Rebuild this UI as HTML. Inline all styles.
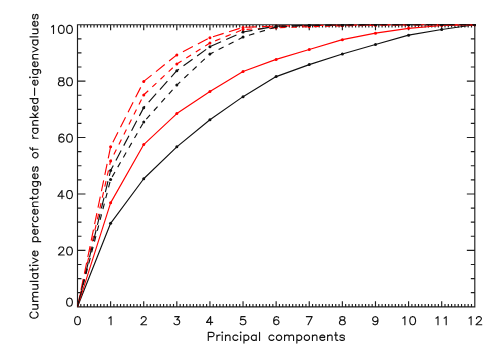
<!DOCTYPE html>
<html><head><meta charset="utf-8"><title>plot</title>
<style>html,body{margin:0;padding:0;background:#fff;font-family:"Liberation Sans",sans-serif;}svg{display:block}</style></head><body>
<svg width="498" height="356" viewBox="0 0 498 356">
<rect width="498" height="356" fill="#fff"/>
<path d="M77.50 24.70H474.80V306.80H77.50ZM77.50 306.80v-5.64M77.50 24.70v5.64M80.81 306.80v-2.82M80.81 24.70v2.82M84.12 306.80v-2.82M84.12 24.70v2.82M87.43 306.80v-2.82M87.43 24.70v2.82M90.74 306.80v-2.82M90.74 24.70v2.82M94.05 306.80v-2.82M94.05 24.70v2.82M97.36 306.80v-2.82M97.36 24.70v2.82M100.68 306.80v-2.82M100.68 24.70v2.82M103.99 306.80v-2.82M103.99 24.70v2.82M107.30 306.80v-2.82M107.30 24.70v2.82M110.61 306.80v-5.64M110.61 24.70v5.64M113.92 306.80v-2.82M113.92 24.70v2.82M117.23 306.80v-2.82M117.23 24.70v2.82M120.54 306.80v-2.82M120.54 24.70v2.82M123.85 306.80v-2.82M123.85 24.70v2.82M127.16 306.80v-2.82M127.16 24.70v2.82M130.47 306.80v-2.82M130.47 24.70v2.82M133.78 306.80v-2.82M133.78 24.70v2.82M137.09 306.80v-2.82M137.09 24.70v2.82M140.41 306.80v-2.82M140.41 24.70v2.82M143.72 306.80v-5.64M143.72 24.70v5.64M147.03 306.80v-2.82M147.03 24.70v2.82M150.34 306.80v-2.82M150.34 24.70v2.82M153.65 306.80v-2.82M153.65 24.70v2.82M156.96 306.80v-2.82M156.96 24.70v2.82M160.27 306.80v-2.82M160.27 24.70v2.82M163.58 306.80v-2.82M163.58 24.70v2.82M166.89 306.80v-2.82M166.89 24.70v2.82M170.20 306.80v-2.82M170.20 24.70v2.82M173.51 306.80v-2.82M173.51 24.70v2.82M176.82 306.80v-5.64M176.82 24.70v5.64M180.14 306.80v-2.82M180.14 24.70v2.82M183.45 306.80v-2.82M183.45 24.70v2.82M186.76 306.80v-2.82M186.76 24.70v2.82M190.07 306.80v-2.82M190.07 24.70v2.82M193.38 306.80v-2.82M193.38 24.70v2.82M196.69 306.80v-2.82M196.69 24.70v2.82M200.00 306.80v-2.82M200.00 24.70v2.82M203.31 306.80v-2.82M203.31 24.70v2.82M206.62 306.80v-2.82M206.62 24.70v2.82M209.93 306.80v-5.64M209.93 24.70v5.64M213.24 306.80v-2.82M213.24 24.70v2.82M216.56 306.80v-2.82M216.56 24.70v2.82M219.87 306.80v-2.82M219.87 24.70v2.82M223.18 306.80v-2.82M223.18 24.70v2.82M226.49 306.80v-2.82M226.49 24.70v2.82M229.80 306.80v-2.82M229.80 24.70v2.82M233.11 306.80v-2.82M233.11 24.70v2.82M236.42 306.80v-2.82M236.42 24.70v2.82M239.73 306.80v-2.82M239.73 24.70v2.82M243.04 306.80v-5.64M243.04 24.70v5.64M246.35 306.80v-2.82M246.35 24.70v2.82M249.66 306.80v-2.82M249.66 24.70v2.82M252.97 306.80v-2.82M252.97 24.70v2.82M256.28 306.80v-2.82M256.28 24.70v2.82M259.60 306.80v-2.82M259.60 24.70v2.82M262.91 306.80v-2.82M262.91 24.70v2.82M266.22 306.80v-2.82M266.22 24.70v2.82M269.53 306.80v-2.82M269.53 24.70v2.82M272.84 306.80v-2.82M272.84 24.70v2.82M276.15 306.80v-5.64M276.15 24.70v5.64M279.46 306.80v-2.82M279.46 24.70v2.82M282.77 306.80v-2.82M282.77 24.70v2.82M286.08 306.80v-2.82M286.08 24.70v2.82M289.39 306.80v-2.82M289.39 24.70v2.82M292.70 306.80v-2.82M292.70 24.70v2.82M296.01 306.80v-2.82M296.01 24.70v2.82M299.33 306.80v-2.82M299.33 24.70v2.82M302.64 306.80v-2.82M302.64 24.70v2.82M305.95 306.80v-2.82M305.95 24.70v2.82M309.26 306.80v-5.64M309.26 24.70v5.64M312.57 306.80v-2.82M312.57 24.70v2.82M315.88 306.80v-2.82M315.88 24.70v2.82M319.19 306.80v-2.82M319.19 24.70v2.82M322.50 306.80v-2.82M322.50 24.70v2.82M325.81 306.80v-2.82M325.81 24.70v2.82M329.12 306.80v-2.82M329.12 24.70v2.82M332.43 306.80v-2.82M332.43 24.70v2.82M335.75 306.80v-2.82M335.75 24.70v2.82M339.06 306.80v-2.82M339.06 24.70v2.82M342.37 306.80v-5.64M342.37 24.70v5.64M345.68 306.80v-2.82M345.68 24.70v2.82M348.99 306.80v-2.82M348.99 24.70v2.82M352.30 306.80v-2.82M352.30 24.70v2.82M355.61 306.80v-2.82M355.61 24.70v2.82M358.92 306.80v-2.82M358.92 24.70v2.82M362.23 306.80v-2.82M362.23 24.70v2.82M365.54 306.80v-2.82M365.54 24.70v2.82M368.85 306.80v-2.82M368.85 24.70v2.82M372.16 306.80v-2.82M372.16 24.70v2.82M375.48 306.80v-5.64M375.48 24.70v5.64M378.79 306.80v-2.82M378.79 24.70v2.82M382.10 306.80v-2.82M382.10 24.70v2.82M385.41 306.80v-2.82M385.41 24.70v2.82M388.72 306.80v-2.82M388.72 24.70v2.82M392.03 306.80v-2.82M392.03 24.70v2.82M395.34 306.80v-2.82M395.34 24.70v2.82M398.65 306.80v-2.82M398.65 24.70v2.82M401.96 306.80v-2.82M401.96 24.70v2.82M405.27 306.80v-2.82M405.27 24.70v2.82M408.58 306.80v-5.64M408.58 24.70v5.64M411.89 306.80v-2.82M411.89 24.70v2.82M415.20 306.80v-2.82M415.20 24.70v2.82M418.52 306.80v-2.82M418.52 24.70v2.82M421.83 306.80v-2.82M421.83 24.70v2.82M425.14 306.80v-2.82M425.14 24.70v2.82M428.45 306.80v-2.82M428.45 24.70v2.82M431.76 306.80v-2.82M431.76 24.70v2.82M435.07 306.80v-2.82M435.07 24.70v2.82M438.38 306.80v-2.82M438.38 24.70v2.82M441.69 306.80v-5.64M441.69 24.70v5.64M445.00 306.80v-2.82M445.00 24.70v2.82M448.31 306.80v-2.82M448.31 24.70v2.82M451.62 306.80v-2.82M451.62 24.70v2.82M454.94 306.80v-2.82M454.94 24.70v2.82M458.25 306.80v-2.82M458.25 24.70v2.82M461.56 306.80v-2.82M461.56 24.70v2.82M464.87 306.80v-2.82M464.87 24.70v2.82M468.18 306.80v-2.82M468.18 24.70v2.82M471.49 306.80v-2.82M471.49 24.70v2.82M474.80 306.80v-5.64M474.80 24.70v5.64M77.50 306.80h7.95M474.80 306.80h-7.95M77.50 292.69h3.97M474.80 292.69h-3.97M77.50 278.59h3.97M474.80 278.59h-3.97M77.50 264.49h3.97M474.80 264.49h-3.97M77.50 250.38h7.95M474.80 250.38h-7.95M77.50 236.28h3.97M474.80 236.28h-3.97M77.50 222.17h3.97M474.80 222.17h-3.97M77.50 208.06h3.97M474.80 208.06h-3.97M77.50 193.96h7.95M474.80 193.96h-7.95M77.50 179.85h3.97M474.80 179.85h-3.97M77.50 165.75h3.97M474.80 165.75h-3.97M77.50 151.64h3.97M474.80 151.64h-3.97M77.50 137.54h7.95M474.80 137.54h-7.95M77.50 123.44h3.97M474.80 123.44h-3.97M77.50 109.33h3.97M474.80 109.33h-3.97M77.50 95.23h3.97M474.80 95.23h-3.97M77.50 81.12h7.95M474.80 81.12h-7.95M77.50 67.01h3.97M474.80 67.01h-3.97M77.50 52.91h3.97M474.80 52.91h-3.97M77.50 38.80h3.97M474.80 38.80h-3.97M77.50 24.70h7.95M474.80 24.70h-7.95" fill="none" stroke="#1e1e1e" stroke-width="1.15" stroke-linecap="butt" stroke-linejoin="miter"/>
<path d="M77.09 316.68 L75.86 317.06 L75.04 318.21 L74.63 320.12 L74.63 321.26 L75.04 323.17 L75.86 324.32 L77.09 324.70 L77.91 324.70 L79.14 324.32 L79.96 323.17 L80.37 321.26 L80.37 320.12 L79.96 318.21 L79.14 317.06 L77.91 316.68 L77.09 316.68 M108.97 318.21 L109.79 317.82 L111.02 316.68 L111.02 324.70 M141.26 318.59 L141.26 318.21 L141.67 317.44 L142.08 317.06 L142.90 316.68 L144.54 316.68 L145.36 317.06 L145.77 317.44 L146.18 318.21 L146.18 318.97 L145.77 319.73 L144.95 320.88 L140.85 324.70 L146.59 324.70 M174.78 316.68 L179.28 316.68 L176.82 319.73 L178.06 319.73 L178.88 320.12 L179.28 320.50 L179.69 321.64 L179.69 322.41 L179.28 323.55 L178.47 324.32 L177.23 324.70 L176.00 324.70 L174.78 324.32 L174.36 323.94 L173.95 323.17 M210.63 316.68 L206.53 322.41 L212.68 322.41 M210.63 316.68 L210.63 324.70 M245.09 316.68 L240.99 316.68 L240.58 320.12 L240.99 319.73 L242.22 319.35 L243.45 319.35 L244.68 319.73 L245.50 320.50 L245.91 321.64 L245.91 322.41 L245.50 323.55 L244.68 324.32 L243.45 324.70 L242.22 324.70 L240.99 324.32 L240.58 323.94 L240.17 323.17 M278.61 317.82 L278.20 317.06 L276.97 316.68 L276.15 316.68 L274.92 317.06 L274.10 318.21 L273.69 320.12 L273.69 322.03 L274.10 323.55 L274.92 324.32 L276.15 324.70 L276.56 324.70 L277.79 324.32 L278.61 323.55 L279.02 322.41 L279.02 322.03 L278.61 320.88 L277.79 320.12 L276.56 319.73 L276.15 319.73 L274.92 320.12 L274.10 320.88 L273.69 322.03 M312.13 316.68 L308.03 324.70 M306.39 316.68 L312.13 316.68 M341.55 316.68 L340.32 317.06 L339.91 317.82 L339.91 318.59 L340.32 319.35 L341.14 319.73 L342.78 320.12 L344.01 320.50 L344.83 321.26 L345.24 322.03 L345.24 323.17 L344.83 323.94 L344.42 324.32 L343.19 324.70 L341.55 324.70 L340.32 324.32 L339.91 323.94 L339.50 323.17 L339.50 322.03 L339.91 321.26 L340.73 320.50 L341.96 320.12 L343.60 319.73 L344.42 319.35 L344.83 318.59 L344.83 317.82 L344.42 317.06 L343.19 316.68 L341.55 316.68 M377.94 319.35 L377.52 320.50 L376.70 321.26 L375.48 321.64 L375.06 321.64 L373.83 321.26 L373.01 320.50 L372.61 319.35 L372.61 318.97 L373.01 317.82 L373.83 317.06 L375.06 316.68 L375.48 316.68 L376.70 317.06 L377.52 317.82 L377.94 319.35 L377.94 321.26 L377.52 323.17 L376.70 324.32 L375.48 324.70 L374.65 324.70 L373.43 324.32 L373.01 323.55 M402.84 318.21 L403.66 317.82 L404.89 316.68 L404.89 324.70 M412.27 316.68 L411.04 317.06 L410.22 318.21 L409.81 320.12 L409.81 321.26 L410.22 323.17 L411.04 324.32 L412.27 324.70 L413.09 324.70 L414.32 324.32 L415.14 323.17 L415.55 321.26 L415.55 320.12 L415.14 318.21 L414.32 317.06 L413.09 316.68 L412.27 316.68 M435.95 318.21 L436.77 317.82 L438.00 316.68 L438.00 324.70 M444.15 318.21 L444.97 317.82 L446.20 316.68 L446.20 324.70 M469.06 318.21 L469.88 317.82 L471.11 316.68 L471.11 324.70 M476.44 318.59 L476.44 318.21 L476.85 317.44 L477.26 317.06 L478.08 316.68 L479.72 316.68 L480.54 317.06 L480.95 317.44 L481.36 318.21 L481.36 318.97 L480.95 319.73 L480.13 320.88 L476.03 324.70 L481.77 324.70 M208.29 332.38 L208.29 340.40 M208.29 332.38 L211.98 332.38 L213.21 332.76 L213.62 333.14 L214.03 333.91 L214.03 335.05 L213.62 335.82 L213.21 336.20 L211.98 336.58 L208.29 336.58 M216.90 335.05 L216.90 340.40 M216.90 337.34 L217.31 336.20 L218.13 335.43 L218.95 335.05 L220.18 335.05 M221.82 332.38 L222.23 332.76 L222.65 332.38 L222.23 332.00 L221.82 332.38 M222.23 335.05 L222.23 340.40 M225.51 335.05 L225.51 340.40 M225.51 336.58 L226.75 335.43 L227.56 335.05 L228.79 335.05 L229.62 335.43 L230.03 336.58 L230.03 340.40 M237.81 336.20 L237.00 335.43 L236.17 335.05 L234.94 335.05 L234.12 335.43 L233.30 336.20 L232.89 337.34 L232.89 338.11 L233.30 339.25 L234.12 340.02 L234.94 340.40 L236.17 340.40 L237.00 340.02 L237.81 339.25 M240.27 332.38 L240.68 332.76 L241.09 332.38 L240.68 332.00 L240.27 332.38 M240.68 335.05 L240.68 340.40 M243.96 335.05 L243.96 343.07 M243.96 336.20 L244.78 335.43 L245.60 335.05 L246.83 335.05 L247.66 335.43 L248.47 336.20 L248.88 337.34 L248.88 338.11 L248.47 339.25 L247.66 340.02 L246.83 340.40 L245.60 340.40 L244.78 340.02 L243.96 339.25 M256.26 335.05 L256.26 340.40 M256.26 336.20 L255.44 335.43 L254.62 335.05 L253.39 335.05 L252.57 335.43 L251.75 336.20 L251.34 337.34 L251.34 338.11 L251.75 339.25 L252.57 340.02 L253.39 340.40 L254.62 340.40 L255.44 340.02 L256.26 339.25 M259.54 332.38 L259.54 340.40 M273.89 336.20 L273.07 335.43 L272.25 335.05 L271.02 335.05 L270.20 335.43 L269.38 336.20 L268.97 337.34 L268.97 338.11 L269.38 339.25 L270.20 340.02 L271.02 340.40 L272.25 340.40 L273.07 340.02 L273.89 339.25 M278.40 335.05 L277.58 335.43 L276.76 336.20 L276.35 337.34 L276.35 338.11 L276.76 339.25 L277.58 340.02 L278.40 340.40 L279.63 340.40 L280.45 340.02 L281.27 339.25 L281.68 338.11 L281.68 337.34 L281.27 336.20 L280.45 335.43 L279.63 335.05 L278.40 335.05 M284.55 335.05 L284.55 340.40 M284.55 336.58 L285.78 335.43 L286.60 335.05 L287.83 335.05 L288.65 335.43 L289.06 336.58 L289.06 340.40 M289.06 336.58 L290.29 335.43 L291.11 335.05 L292.34 335.05 L293.16 335.43 L293.57 336.58 L293.57 340.40 M296.85 335.05 L296.85 343.07 M296.85 336.20 L297.67 335.43 L298.49 335.05 L299.72 335.05 L300.54 335.43 L301.36 336.20 L301.77 337.34 L301.77 338.11 L301.36 339.25 L300.54 340.02 L299.72 340.40 L298.49 340.40 L297.67 340.02 L296.85 339.25 M306.28 335.05 L305.46 335.43 L304.64 336.20 L304.24 337.34 L304.24 338.11 L304.64 339.25 L305.46 340.02 L306.28 340.40 L307.51 340.40 L308.33 340.02 L309.15 339.25 L309.56 338.11 L309.56 337.34 L309.15 336.20 L308.33 335.43 L307.51 335.05 L306.28 335.05 M312.44 335.05 L312.44 340.40 M312.44 336.58 L313.67 335.43 L314.49 335.05 L315.72 335.05 L316.54 335.43 L316.94 336.58 L316.94 340.40 M319.82 337.34 L324.74 337.34 L324.74 336.58 L324.33 335.82 L323.92 335.43 L323.10 335.05 L321.87 335.05 L321.05 335.43 L320.23 336.20 L319.82 337.34 L319.82 338.11 L320.23 339.25 L321.05 340.02 L321.87 340.40 L323.10 340.40 L323.92 340.02 L324.74 339.25 M327.61 335.05 L327.61 340.40 M327.61 336.58 L328.84 335.43 L329.66 335.05 L330.89 335.05 L331.71 335.43 L332.12 336.58 L332.12 340.40 M335.81 332.38 L335.81 338.87 L336.22 340.02 L337.04 340.40 L337.86 340.40 M334.58 335.05 L337.45 335.05 M344.42 336.20 L344.01 335.43 L342.78 335.05 L341.55 335.05 L340.32 335.43 L339.91 336.20 L340.32 336.96 L341.14 337.34 L343.19 337.73 L344.01 338.11 L344.42 338.87 L344.42 339.25 L344.01 340.02 L342.78 340.40 L341.55 340.40 L340.32 340.02 L339.91 339.25 M69.09 298.18 L67.86 298.56 L67.04 299.71 L66.63 301.62 L66.63 302.76 L67.04 304.67 L67.86 305.82 L69.09 306.20 L69.91 306.20 L71.14 305.82 L71.96 304.67 L72.37 302.76 L72.37 301.62 L71.96 299.71 L71.14 298.56 L69.91 298.18 L69.09 298.18 M58.84 248.87 L58.84 248.49 L59.25 247.72 L59.66 247.34 L60.48 246.96 L62.12 246.96 L62.94 247.34 L63.35 247.72 L63.76 248.49 L63.76 249.25 L63.35 250.01 L62.53 251.16 L58.43 254.98 L64.17 254.98 M69.09 246.96 L67.86 247.34 L67.04 248.49 L66.63 250.40 L66.63 251.54 L67.04 253.45 L67.86 254.60 L69.09 254.98 L69.91 254.98 L71.14 254.60 L71.96 253.45 L72.37 251.54 L72.37 250.40 L71.96 248.49 L71.14 247.34 L69.91 246.96 L69.09 246.96 M62.00 190.54 L57.90 196.27 L64.05 196.27 M62.00 190.54 L62.00 198.56 M69.09 190.54 L67.86 190.92 L67.04 192.07 L66.63 193.98 L66.63 195.12 L67.04 197.03 L67.86 198.18 L69.09 198.56 L69.91 198.56 L71.14 198.18 L71.96 197.03 L72.37 195.12 L72.37 193.98 L71.96 192.07 L71.14 190.92 L69.91 190.54 L69.09 190.54 M63.76 135.26 L63.35 134.50 L62.12 134.12 L61.30 134.12 L60.07 134.50 L59.25 135.65 L58.84 137.56 L58.84 139.47 L59.25 140.99 L60.07 141.76 L61.30 142.14 L61.71 142.14 L62.94 141.76 L63.76 140.99 L64.17 139.85 L64.17 139.47 L63.76 138.32 L62.94 137.56 L61.71 137.17 L61.30 137.17 L60.07 137.56 L59.25 138.32 L58.84 139.47 M69.09 134.12 L67.86 134.50 L67.04 135.65 L66.63 137.56 L66.63 138.70 L67.04 140.61 L67.86 141.76 L69.09 142.14 L69.91 142.14 L71.14 141.76 L71.96 140.61 L72.37 138.70 L72.37 137.56 L71.96 135.65 L71.14 134.50 L69.91 134.12 L69.09 134.12 M60.48 77.70 L59.25 78.08 L58.84 78.84 L58.84 79.61 L59.25 80.37 L60.07 80.75 L61.71 81.14 L62.94 81.52 L63.76 82.28 L64.17 83.05 L64.17 84.19 L63.76 84.96 L63.35 85.34 L62.12 85.72 L60.48 85.72 L59.25 85.34 L58.84 84.96 L58.43 84.19 L58.43 83.05 L58.84 82.28 L59.66 81.52 L60.89 81.14 L62.53 80.75 L63.35 80.37 L63.76 79.61 L63.76 78.84 L63.35 78.08 L62.12 77.70 L60.48 77.70 M69.09 77.70 L67.86 78.08 L67.04 79.23 L66.63 81.14 L66.63 82.28 L67.04 84.19 L67.86 85.34 L69.09 85.72 L69.91 85.72 L71.14 85.34 L71.96 84.19 L72.37 82.28 L72.37 81.14 L71.96 79.23 L71.14 78.08 L69.91 77.70 L69.09 77.70 M51.46 26.91 L52.28 26.52 L53.51 25.38 L53.51 33.40 M60.89 25.38 L59.66 25.76 L58.84 26.91 L58.43 28.82 L58.43 29.96 L58.84 31.87 L59.66 33.02 L60.89 33.40 L61.71 33.40 L62.94 33.02 L63.76 31.87 L64.17 29.96 L64.17 28.82 L63.76 26.91 L62.94 25.76 L61.71 25.38 L60.89 25.38 M69.09 25.38 L67.86 25.76 L67.04 26.91 L66.63 28.82 L66.63 29.96 L67.04 31.87 L67.86 33.02 L69.09 33.40 L69.91 33.40 L71.14 33.02 L71.96 31.87 L72.37 29.96 L72.37 28.82 L71.96 26.91 L71.14 25.76 L69.91 25.38 L69.09 25.38" fill="none" stroke="#141414" stroke-width="1.15" stroke-linecap="round" stroke-linejoin="round"/>
<g transform="translate(38.0 319.35) rotate(-90)"><path d="M7.36 -6.11 L6.95 -6.88 L6.13 -7.64 L5.31 -8.02 L3.68 -8.02 L2.86 -7.64 L2.04 -6.88 L1.64 -6.11 L1.23 -4.97 L1.23 -3.06 L1.64 -1.91 L2.04 -1.15 L2.86 -0.38 L3.68 0.00 L5.31 0.00 L6.13 -0.38 L6.95 -1.15 L7.36 -1.91 M10.22 -5.35 L10.22 -1.53 L10.63 -0.38 L11.45 0.00 L12.67 0.00 L13.49 -0.38 L14.72 -1.53 M14.72 -5.35 L14.72 0.00 M17.99 -5.35 L17.99 0.00 M17.99 -3.82 L19.21 -4.97 L20.03 -5.35 L21.26 -5.35 L22.08 -4.97 L22.48 -3.82 L22.48 0.00 M22.48 -3.82 L23.71 -4.97 L24.53 -5.35 L25.75 -5.35 L26.57 -4.97 L26.98 -3.82 L26.98 0.00 M30.25 -5.35 L30.25 -1.53 L30.66 -0.38 L31.48 0.00 L32.70 0.00 L33.52 -0.38 L34.75 -1.53 M34.75 -5.35 L34.75 0.00 M38.02 -8.02 L38.02 0.00 M45.79 -5.35 L45.79 0.00 M45.79 -4.20 L44.97 -4.97 L44.15 -5.35 L42.92 -5.35 L42.11 -4.97 L41.29 -4.20 L40.88 -3.06 L40.88 -2.29 L41.29 -1.15 L42.11 -0.38 L42.92 0.00 L44.15 0.00 L44.97 -0.38 L45.79 -1.15 M49.46 -8.02 L49.46 -1.53 L49.87 -0.38 L50.69 0.00 L51.51 0.00 M48.24 -5.35 L51.10 -5.35 M53.55 -8.02 L53.96 -7.64 L54.37 -8.02 L53.96 -8.40 L53.55 -8.02 M53.96 -5.35 L53.96 0.00 M56.41 -5.35 L58.87 0.00 M61.32 -5.35 L58.87 0.00 M63.36 -3.06 L68.27 -3.06 L68.27 -3.82 L67.86 -4.58 L67.45 -4.97 L66.63 -5.35 L65.41 -5.35 L64.59 -4.97 L63.77 -4.20 L63.36 -3.06 L63.36 -2.29 L63.77 -1.15 L64.59 -0.38 L65.41 0.00 L66.63 0.00 L67.45 -0.38 L68.27 -1.15 M77.67 -5.35 L77.67 2.67 M77.67 -4.20 L78.49 -4.97 L79.31 -5.35 L80.53 -5.35 L81.35 -4.97 L82.17 -4.20 L82.58 -3.06 L82.58 -2.29 L82.17 -1.15 L81.35 -0.38 L80.53 0.00 L79.31 0.00 L78.49 -0.38 L77.67 -1.15 M85.03 -3.06 L89.94 -3.06 L89.94 -3.82 L89.53 -4.58 L89.12 -4.97 L88.30 -5.35 L87.07 -5.35 L86.26 -4.97 L85.44 -4.20 L85.03 -3.06 L85.03 -2.29 L85.44 -1.15 L86.26 -0.38 L87.07 0.00 L88.30 0.00 L89.12 -0.38 L89.94 -1.15 M92.80 -5.35 L92.80 0.00 M92.80 -3.06 L93.21 -4.20 L94.02 -4.97 L94.84 -5.35 L96.07 -5.35 M102.61 -4.20 L101.79 -4.97 L100.97 -5.35 L99.75 -5.35 L98.93 -4.97 L98.11 -4.20 L97.70 -3.06 L97.70 -2.29 L98.11 -1.15 L98.93 -0.38 L99.75 0.00 L100.97 0.00 L101.79 -0.38 L102.61 -1.15 M105.06 -3.06 L109.97 -3.06 L109.97 -3.82 L109.56 -4.58 L109.15 -4.97 L108.33 -5.35 L107.11 -5.35 L106.29 -4.97 L105.47 -4.20 L105.06 -3.06 L105.06 -2.29 L105.47 -1.15 L106.29 -0.38 L107.11 0.00 L108.33 0.00 L109.15 -0.38 L109.97 -1.15 M112.83 -5.35 L112.83 0.00 M112.83 -3.82 L114.06 -4.97 L114.87 -5.35 L116.10 -5.35 L116.92 -4.97 L117.33 -3.82 L117.33 0.00 M121.00 -8.02 L121.00 -1.53 L121.41 -0.38 L122.23 0.00 L123.05 0.00 M119.78 -5.35 L122.64 -5.35 M130.00 -5.35 L130.00 0.00 M130.00 -4.20 L129.18 -4.97 L128.36 -5.35 L127.14 -5.35 L126.32 -4.97 L125.50 -4.20 L125.09 -3.06 L125.09 -2.29 L125.50 -1.15 L126.32 -0.38 L127.14 0.00 L128.36 0.00 L129.18 -0.38 L130.00 -1.15 M137.77 -5.35 L137.77 0.76 L137.36 1.91 L136.95 2.29 L136.13 2.67 L134.90 2.67 L134.09 2.29 M137.77 -4.20 L136.95 -4.97 L136.13 -5.35 L134.90 -5.35 L134.09 -4.97 L133.27 -4.20 L132.86 -3.06 L132.86 -2.29 L133.27 -1.15 L134.09 -0.38 L134.90 0.00 L136.13 0.00 L136.95 -0.38 L137.77 -1.15 M140.63 -3.06 L145.53 -3.06 L145.53 -3.82 L145.12 -4.58 L144.72 -4.97 L143.90 -5.35 L142.67 -5.35 L141.85 -4.97 L141.04 -4.20 L140.63 -3.06 L140.63 -2.29 L141.04 -1.15 L141.85 -0.38 L142.67 0.00 L143.90 0.00 L144.72 -0.38 L145.53 -1.15 M152.48 -4.20 L152.07 -4.97 L150.85 -5.35 L149.62 -5.35 L148.39 -4.97 L147.99 -4.20 L148.39 -3.44 L149.21 -3.06 L151.26 -2.67 L152.07 -2.29 L152.48 -1.53 L152.48 -1.15 L152.07 -0.38 L150.85 0.00 L149.62 0.00 L148.39 -0.38 L147.99 -1.15 M163.52 -5.35 L162.70 -4.97 L161.88 -4.20 L161.48 -3.06 L161.48 -2.29 L161.88 -1.15 L162.70 -0.38 L163.52 0.00 L164.75 0.00 L165.56 -0.38 L166.38 -1.15 L166.79 -2.29 L166.79 -3.06 L166.38 -4.20 L165.56 -4.97 L164.75 -5.35 L163.52 -5.35 M172.10 -8.02 L171.29 -8.02 L170.47 -7.64 L170.06 -6.49 L170.06 0.00 M168.83 -5.35 L171.70 -5.35 M181.10 -5.35 L181.10 0.00 M181.10 -3.06 L181.51 -4.20 L182.32 -4.97 L183.14 -5.35 L184.37 -5.35 M190.91 -5.35 L190.91 0.00 M190.91 -4.20 L190.09 -4.97 L189.27 -5.35 L188.05 -5.35 L187.23 -4.97 L186.41 -4.20 L186.00 -3.06 L186.00 -2.29 L186.41 -1.15 L187.23 -0.38 L188.05 0.00 L189.27 0.00 L190.09 -0.38 L190.91 -1.15 M194.18 -5.35 L194.18 0.00 M194.18 -3.82 L195.41 -4.97 L196.22 -5.35 L197.45 -5.35 L198.27 -4.97 L198.68 -3.82 L198.68 0.00 M201.95 -8.02 L201.95 0.00 M206.04 -5.35 L201.95 -1.53 M203.58 -3.06 L206.44 0.00 M208.49 -3.06 L213.39 -3.06 L213.39 -3.82 L212.98 -4.58 L212.58 -4.97 L211.76 -5.35 L210.53 -5.35 L209.71 -4.97 L208.90 -4.20 L208.49 -3.06 L208.49 -2.29 L208.90 -1.15 L209.71 -0.38 L210.53 0.00 L211.76 0.00 L212.58 -0.38 L213.39 -1.15 M220.75 -8.02 L220.75 0.00 M220.75 -4.20 L219.93 -4.97 L219.12 -5.35 L217.89 -5.35 L217.07 -4.97 L216.26 -4.20 L215.85 -3.06 L215.85 -2.29 L216.26 -1.15 L217.07 -0.38 L217.89 0.00 L219.12 0.00 L219.93 -0.38 L220.75 -1.15 M224.02 -3.44 L231.38 -3.44 M234.24 -3.06 L239.15 -3.06 L239.15 -3.82 L238.74 -4.58 L238.33 -4.97 L237.51 -5.35 L236.29 -5.35 L235.47 -4.97 L234.65 -4.20 L234.24 -3.06 L234.24 -2.29 L234.65 -1.15 L235.47 -0.38 L236.29 0.00 L237.51 0.00 L238.33 -0.38 L239.15 -1.15 M241.60 -8.02 L242.01 -7.64 L242.42 -8.02 L242.01 -8.40 L241.60 -8.02 M242.01 -5.35 L242.01 0.00 M249.78 -5.35 L249.78 0.76 L249.37 1.91 L248.96 2.29 L248.14 2.67 L246.92 2.67 L246.10 2.29 M249.78 -4.20 L248.96 -4.97 L248.14 -5.35 L246.92 -5.35 L246.10 -4.97 L245.28 -4.20 L244.87 -3.06 L244.87 -2.29 L245.28 -1.15 L246.10 -0.38 L246.92 0.00 L248.14 0.00 L248.96 -0.38 L249.78 -1.15 M252.64 -3.06 L257.54 -3.06 L257.54 -3.82 L257.14 -4.58 L256.73 -4.97 L255.91 -5.35 L254.68 -5.35 L253.86 -4.97 L253.05 -4.20 L252.64 -3.06 L252.64 -2.29 L253.05 -1.15 L253.86 -0.38 L254.68 0.00 L255.91 0.00 L256.73 -0.38 L257.54 -1.15 M260.41 -5.35 L260.41 0.00 M260.41 -3.82 L261.63 -4.97 L262.45 -5.35 L263.68 -5.35 L264.49 -4.97 L264.90 -3.82 L264.90 0.00 M267.36 -5.35 L269.81 0.00 M272.26 -5.35 L269.81 0.00 M279.21 -5.35 L279.21 0.00 M279.21 -4.20 L278.39 -4.97 L277.58 -5.35 L276.35 -5.35 L275.53 -4.97 L274.71 -4.20 L274.30 -3.06 L274.30 -2.29 L274.71 -1.15 L275.53 -0.38 L276.35 0.00 L277.58 0.00 L278.39 -0.38 L279.21 -1.15 M282.48 -8.02 L282.48 0.00 M285.75 -5.35 L285.75 -1.53 L286.16 -0.38 L286.98 0.00 L288.20 0.00 L289.02 -0.38 L290.25 -1.53 M290.25 -5.35 L290.25 0.00 M293.11 -3.06 L298.02 -3.06 L298.02 -3.82 L297.61 -4.58 L297.20 -4.97 L296.38 -5.35 L295.15 -5.35 L294.34 -4.97 L293.52 -4.20 L293.11 -3.06 L293.11 -2.29 L293.52 -1.15 L294.34 -0.38 L295.15 0.00 L296.38 0.00 L297.20 -0.38 L298.02 -1.15 M304.96 -4.20 L304.56 -4.97 L303.33 -5.35 L302.10 -5.35 L300.88 -4.97 L300.47 -4.20 L300.88 -3.44 L301.69 -3.06 L303.74 -2.67 L304.56 -2.29 L304.96 -1.53 L304.96 -1.15 L304.56 -0.38 L303.33 0.00 L302.10 0.00 L300.88 -0.38 L300.47 -1.15" fill="none" stroke="#141414" stroke-width="1.15" stroke-linecap="round" stroke-linejoin="round"/></g>
<clipPath id="c"><rect x="76.5" y="24.00" width="399.3" height="283.50"/></clipPath>
<g clip-path="url(#c)">
<polyline points="77.50,306.80 110.61,223.30 143.72,178.73 176.82,146.85 209.93,119.77 243.04,96.64 276.15,76.61 309.26,64.62 342.37,54.04 375.48,44.45 408.58,35.14 441.69,29.50 474.80,24.70" fill="none" stroke="#111111" stroke-width="1.15" stroke-linejoin="round"/>
<circle cx="110.61" cy="223.30" r="1.5" fill="#111111"/>
<circle cx="143.72" cy="178.73" r="1.5" fill="#111111"/>
<circle cx="176.82" cy="146.85" r="1.5" fill="#111111"/>
<circle cx="209.93" cy="119.77" r="1.5" fill="#111111"/>
<circle cx="243.04" cy="96.64" r="1.5" fill="#111111"/>
<circle cx="276.15" cy="76.61" r="1.5" fill="#111111"/>
<circle cx="309.26" cy="64.62" r="1.5" fill="#111111"/>
<circle cx="342.37" cy="54.04" r="1.5" fill="#111111"/>
<circle cx="375.48" cy="44.45" r="1.5" fill="#111111"/>
<circle cx="408.58" cy="35.14" r="1.5" fill="#111111"/>
<circle cx="441.69" cy="29.50" r="1.5" fill="#111111"/>
<circle cx="474.80" cy="24.70" r="1.5" fill="#111111"/>
<polyline points="77.50,306.80 110.61,202.85 143.72,144.59 176.82,113.56 209.93,91.56 243.04,71.53 276.15,59.40 309.26,49.52 342.37,39.65 375.48,33.16 408.58,28.37 441.69,25.55 474.80,24.70" fill="none" stroke="#ff0000" stroke-width="1.15" stroke-linejoin="round"/>
<circle cx="110.61" cy="202.85" r="1.5" fill="#ff0000"/>
<circle cx="143.72" cy="144.59" r="1.5" fill="#ff0000"/>
<circle cx="176.82" cy="113.56" r="1.5" fill="#ff0000"/>
<circle cx="209.93" cy="91.56" r="1.5" fill="#ff0000"/>
<circle cx="243.04" cy="71.53" r="1.5" fill="#ff0000"/>
<circle cx="276.15" cy="59.40" r="1.5" fill="#ff0000"/>
<circle cx="309.26" cy="49.52" r="1.5" fill="#ff0000"/>
<circle cx="342.37" cy="39.65" r="1.5" fill="#ff0000"/>
<circle cx="375.48" cy="33.16" r="1.5" fill="#ff0000"/>
<circle cx="408.58" cy="28.37" r="1.5" fill="#ff0000"/>
<circle cx="441.69" cy="25.55" r="1.5" fill="#ff0000"/>
<circle cx="474.80" cy="24.70" r="1.5" fill="#ff0000"/>
<polyline points="77.50,306.80 110.61,160.95 143.72,94.94 176.82,63.91 209.93,43.04 243.04,29.50 276.15,27.80 309.26,26.67 342.37,25.83 375.48,25.26 408.58,24.98 441.69,24.70 474.80,24.70" fill="none" stroke="#ff0000" stroke-width="1.15" stroke-linejoin="round" stroke-dasharray="5.6 5.6" stroke-dashoffset="0"/>
<circle cx="110.61" cy="160.95" r="1.5" fill="#ff0000"/>
<circle cx="143.72" cy="94.94" r="1.5" fill="#ff0000"/>
<circle cx="176.82" cy="63.91" r="1.5" fill="#ff0000"/>
<circle cx="209.93" cy="43.04" r="1.5" fill="#ff0000"/>
<circle cx="243.04" cy="29.50" r="1.5" fill="#ff0000"/>
<circle cx="276.15" cy="27.80" r="1.5" fill="#ff0000"/>
<circle cx="309.26" cy="26.67" r="1.5" fill="#ff0000"/>
<circle cx="342.37" cy="25.83" r="1.5" fill="#ff0000"/>
<circle cx="375.48" cy="25.26" r="1.5" fill="#ff0000"/>
<circle cx="408.58" cy="24.98" r="1.5" fill="#ff0000"/>
<circle cx="441.69" cy="24.70" r="1.5" fill="#ff0000"/>
<circle cx="474.80" cy="24.70" r="1.5" fill="#ff0000"/>
<polyline points="77.50,306.80 110.61,146.85 143.72,81.40 176.82,54.88 209.93,37.68 243.04,27.38 276.15,26.11 309.26,25.55 342.37,25.26 375.48,24.98 408.58,24.70 441.69,24.70 474.80,24.70" fill="none" stroke="#ff0000" stroke-width="1.15" stroke-linejoin="round" stroke-dasharray="11.2 5.6" stroke-dashoffset="-0.4"/>
<circle cx="110.61" cy="146.85" r="1.5" fill="#ff0000"/>
<circle cx="143.72" cy="81.40" r="1.5" fill="#ff0000"/>
<circle cx="176.82" cy="54.88" r="1.5" fill="#ff0000"/>
<circle cx="209.93" cy="37.68" r="1.5" fill="#ff0000"/>
<circle cx="243.04" cy="27.38" r="1.5" fill="#ff0000"/>
<circle cx="276.15" cy="26.11" r="1.5" fill="#ff0000"/>
<circle cx="309.26" cy="25.55" r="1.5" fill="#ff0000"/>
<circle cx="342.37" cy="25.26" r="1.5" fill="#ff0000"/>
<circle cx="375.48" cy="24.98" r="1.5" fill="#ff0000"/>
<circle cx="408.58" cy="24.70" r="1.5" fill="#ff0000"/>
<circle cx="441.69" cy="24.70" r="1.5" fill="#ff0000"/>
<circle cx="474.80" cy="24.70" r="1.5" fill="#ff0000"/>
<polyline points="77.50,306.80 110.61,179.57 143.72,122.02 176.82,85.07 209.93,54.04 243.04,37.11 276.15,26.96 309.26,25.55 342.37,24.98 375.48,24.70 408.58,24.70 441.69,24.70 474.80,24.70" fill="none" stroke="#111111" stroke-width="1.15" stroke-linejoin="round" stroke-dasharray="5.6 5.6" stroke-dashoffset="-0.2"/>
<circle cx="110.61" cy="179.57" r="1.5" fill="#111111"/>
<circle cx="143.72" cy="122.02" r="1.5" fill="#111111"/>
<circle cx="176.82" cy="85.07" r="1.5" fill="#111111"/>
<circle cx="209.93" cy="54.04" r="1.5" fill="#111111"/>
<circle cx="243.04" cy="37.11" r="1.5" fill="#111111"/>
<circle cx="276.15" cy="26.96" r="1.5" fill="#111111"/>
<circle cx="309.26" cy="25.55" r="1.5" fill="#111111"/>
<circle cx="342.37" cy="24.98" r="1.5" fill="#111111"/>
<circle cx="375.48" cy="24.70" r="1.5" fill="#111111"/>
<circle cx="408.58" cy="24.70" r="1.5" fill="#111111"/>
<circle cx="441.69" cy="24.70" r="1.5" fill="#111111"/>
<circle cx="474.80" cy="24.70" r="1.5" fill="#111111"/>
<polyline points="77.50,306.80 110.61,170.55 143.72,107.64 176.82,70.68 209.93,46.70 243.04,32.03 276.15,26.11 309.26,25.26 342.37,24.98 375.48,24.70 408.58,24.70 441.69,24.70 474.80,24.70" fill="none" stroke="#111111" stroke-width="1.15" stroke-linejoin="round" stroke-dasharray="11.2 5.6" stroke-dashoffset="-0.4"/>
<circle cx="110.61" cy="170.55" r="1.5" fill="#111111"/>
<circle cx="143.72" cy="107.64" r="1.5" fill="#111111"/>
<circle cx="176.82" cy="70.68" r="1.5" fill="#111111"/>
<circle cx="209.93" cy="46.70" r="1.5" fill="#111111"/>
<circle cx="243.04" cy="32.03" r="1.5" fill="#111111"/>
<circle cx="276.15" cy="26.11" r="1.5" fill="#111111"/>
<circle cx="309.26" cy="25.26" r="1.5" fill="#111111"/>
<circle cx="342.37" cy="24.98" r="1.5" fill="#111111"/>
<circle cx="375.48" cy="24.70" r="1.5" fill="#111111"/>
<circle cx="408.58" cy="24.70" r="1.5" fill="#111111"/>
<circle cx="441.69" cy="24.70" r="1.5" fill="#111111"/>
<circle cx="474.80" cy="24.70" r="1.5" fill="#111111"/>
</g>
</svg></body></html>
